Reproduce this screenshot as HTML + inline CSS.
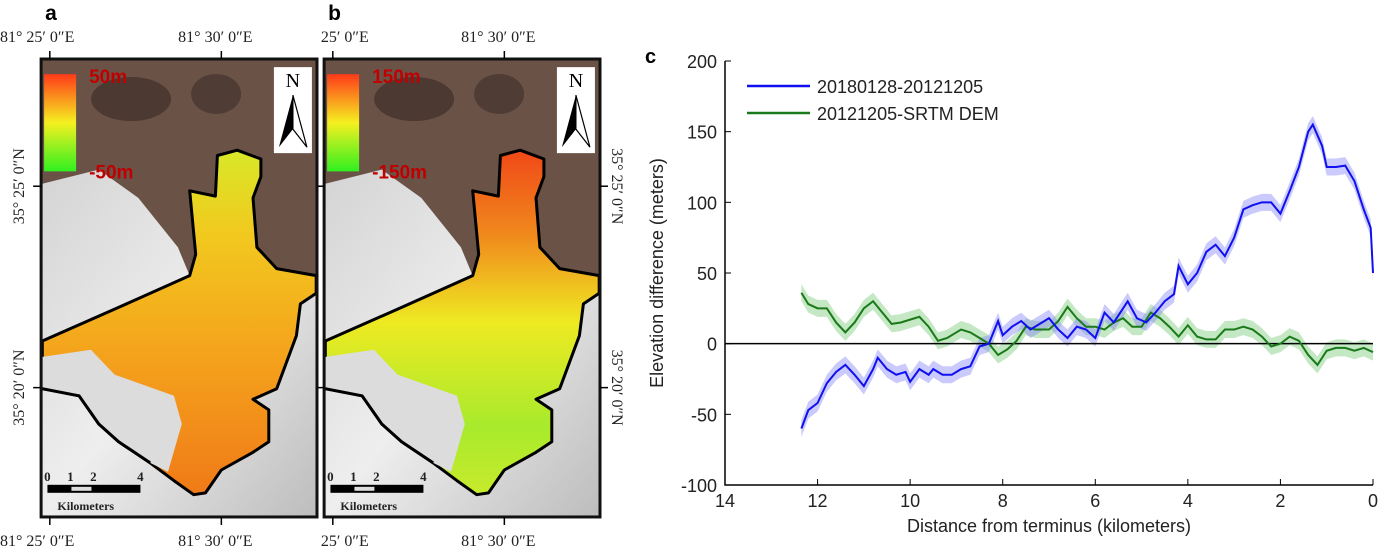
<!DOCTYPE html>
<html><head><meta charset="utf-8"><style>
html,body{margin:0;padding:0;background:#fff;width:1400px;height:554px;overflow:hidden}
svg{position:absolute;left:0;top:0}
</style></head><body>
<svg id="root" width="1400" height="554" xmlns="http://www.w3.org/2000/svg">
<defs>
<linearGradient id="cbar" x1="0" y1="0" x2="0" y2="1">
<stop offset="0" stop-color="#ff3a1a"/><stop offset="0.5" stop-color="#f5f020"/><stop offset="1" stop-color="#30f020"/></linearGradient>
<linearGradient id="glA" x1="0" y1="0" x2="0" y2="1">
<stop offset="0" stop-color="#d8e828"/><stop offset="0.25" stop-color="#f2c81e"/><stop offset="0.6" stop-color="#f4a21c"/><stop offset="1" stop-color="#f07a18"/></linearGradient>
<linearGradient id="glB" x1="0" y1="0" x2="0" y2="1">
<stop offset="0" stop-color="#f04818"/><stop offset="0.25" stop-color="#f08a1c"/><stop offset="0.5" stop-color="#eeea22"/><stop offset="0.8" stop-color="#a8ea2c"/><stop offset="1" stop-color="#c8ea2c"/></linearGradient>
<linearGradient id="snow" x1="0" y1="0" x2="1" y2="1">
<stop offset="0" stop-color="#d4d4d4"/><stop offset="0.5" stop-color="#eeeeee"/><stop offset="1" stop-color="#bdbdbd"/></linearGradient>
</defs>
<g id="maps"></g>
<g id="chart"></g>
</svg>
<script>
const NS='http://www.w3.org/2000/svg';
function mk(tag,attrs,parent,text){const e=document.createElementNS(NS,tag);for(const k in attrs)e.setAttribute(k,attrs[k]);if(text!==undefined)e.textContent=text;parent.appendChild(e);return e;}
// ---------- MAPS ----------
const maps=document.getElementById('maps');
const fx=z=>z/2.53, fy=z=>z/2.83;
const glacierZ=[[107,965],[300,870],[480,780],[495,720],[480,540],[545,555],[550,440],[600,425],[660,450],[660,500],[640,560],[650,700],[700,760],[800,780],[800,830],[760,860],[750,950],[700,1100],[640,1130],[680,1160],[680,1250],[640,1280],[560,1330],[520,1395],[490,1400],[440,1360],[380,1310],[300,1250],[250,1200],[200,1120],[107,1100]];
const holeZ=[[107,1010],[230,990],[290,1060],[440,1120],[460,1200],[425,1335],[380,1310],[300,1250],[250,1200],[200,1120],[107,1100]];
const snowZ=[[107,520],[250,480],[350,560],[450,700],[480,780],[800,790],[800,1460],[107,1460]];
function pts(arr,dx){return arr.map(p=>(fx(p[0])+dx).toFixed(1)+','+fy(p[1]).toFixed(1)).join(' ');}
function panel(dx,letter,grad,top,bot,name){
  const g=mk('g',{},maps);
  
  
  const x0=fx(104)+dx,y0=fy(167),w=fx(802)-fx(104),h=fy(1463)-fy(167);
  mk('rect',{x:x0,y:y0,width:w,height:h,fill:'#6a5247'},g);
  mk('ellipse',{cx:x0+90,cy:y0+40,rx:40,ry:22,fill:'#3e2f29',opacity:0.7},g);
  mk('ellipse',{cx:x0+175,cy:y0+35,rx:25,ry:20,fill:'#3e2f29',opacity:0.6},g);
  mk('polygon',{points:pts(snowZ,dx),fill:'url(#snow)'},g);
  mk('polygon',{points:pts(glacierZ,dx),fill:'url(#'+grad+')',stroke:'#000','stroke-width':3,'stroke-linejoin':'round'},g);
  mk('polygon',{points:pts(holeZ,dx),fill:'#dcdcdc'},g);
  mk('polyline',{points:pts([[107,1100],[200,1120],[250,1200],[300,1250],[380,1310]],dx),fill:'none',stroke:'#000','stroke-width':3},g);
  mk('rect',{x:x0,y:y0,width:w,height:h,fill:'none',stroke:'#111','stroke-width':3},g);
  mk('rect',{x:x0+3,y:fy(210),width:32,height:fy(485)-fy(210),fill:'url(#cbar)'},g);
  const lt=mk('text',{x:x0+48,y:fy(235),fill:'#c00000','font-size':19,'font-weight':'bold','font-family':'Liberation Sans, sans-serif'},g,top);
  
  const lb=mk('text',{x:x0+48,y:fy(505),fill:'#c00000','font-size':19,'font-weight':'bold','font-family':'Liberation Sans, sans-serif'},g,bot);
  
  const nx=fx(693)+dx,ny=fy(190);
  const na=mk('g',{},g);
  mk('rect',{x:nx,y:ny,width:38,height:86,fill:'#fff'},na);
  mk('text',{x:nx+19,y:ny+20,'text-anchor':'middle','font-size':20,'font-family':'Liberation Serif, serif'},na,'N');
  mk('polygon',{points:`${nx+19},${ny+28} ${nx+5},${ny+80} ${nx+19},${ny+62}`,fill:'#000'},na);
  mk('polygon',{points:`${nx+19},${ny+28} ${nx+33},${ny+80} ${nx+19},${ny+62}`,fill:'#fff',stroke:'#000','stroke-width':1.2},na);
  const sb=mk('g',{},g);
  const sx=fx(120)+dx,sy=fy(1372);
  mk('rect',{x:sx,y:sy,width:93,height:8,fill:'#000'},sb);
  mk('rect',{x:sx+24,y:sy+2,width:20,height:4,fill:'#ddd'},sb);
  [['0',0],['1',23],['2',46],['4',93]].forEach(d=>mk('text',{x:sx+d[1],y:sy-4,'text-anchor':'middle','font-size':13,'font-weight':'bold','font-family':'Liberation Serif, serif',fill:'#222'},sb,d[0]));
  mk('text',{x:sx+10,y:sy+25,'font-size':12,'font-weight':'bold','font-family':'Liberation Serif, serif',fill:'#222'},sb,'Kilometers');
  const L=mk('text',{x:x0+4,y:20,'font-size':21,'font-weight':'bold','font-family':'Liberation Sans, sans-serif'},g,letter);
  
  return {x0,y0,w,h,g};
}
const pa=panel(0,'a','glA','50m','-50m','map-panel-a');
const pb=panel(fx(820)-fx(104),'b','glB','150m','-150m','map-panel-b');
function coordLabels(p,left){
  const g=p.g,sty={'font-size':16,'font-family':'Liberation Serif, serif',fill:'#222'};
  const tx=[p.x0+fx(126)-fx(104),p.x0+fx(560)-fx(104)];
  const labs=[left?'81° 25′ 0″E':'25′ 0″E','81° 30′ 0″E'];
  tx.forEach((x,i)=>{
    mk('line',{x1:x,y1:p.y0-8,x2:x,y2:p.y0,stroke:'#000','stroke-width':1.5},g);
    mk('line',{x1:x,y1:p.y0+p.h,x2:x,y2:p.y0+p.h+8,stroke:'#000','stroke-width':1.5},g);
    const a=(i==0&&left)?'start':'middle',xx=(i==0&&left)?0:(i==0?x+12:x-6);
    mk('text',Object.assign({x:xx,y:42,'text-anchor':a},sty),g,labs[i]);
    mk('text',Object.assign({x:xx,y:546,'text-anchor':a},sty),g,labs[i]);
  });
  const ty=[fy(527),fy(1097)],lv=['35° 25′ 0″N','35° 20′ 0″N'];
  ty.forEach((y,i)=>{
    if(left){mk('line',{x1:p.x0-8,y1:y,x2:p.x0,y2:y,stroke:'#000','stroke-width':1.5},g);
      mk('text',Object.assign({transform:`translate(24,${y}) rotate(-90)`,'text-anchor':'middle'},sty),g,lv[i]);}
    else{mk('line',{x1:p.x0+p.w,y1:y,x2:p.x0+p.w+8,y2:y,stroke:'#000','stroke-width':1.5},g);
      mk('text',Object.assign({transform:`translate(612,${y}) rotate(90)`,'text-anchor':'middle'},sty),g,lv[i]);
      mk('line',{x1:p.x0-6,y1:y,x2:p.x0,y2:y,stroke:'#000','stroke-width':1.5},g);}
  });
}
coordLabels(pa,true);coordLabels(pb,false);

// ---------- CHART ----------
const blueKm=[12.35,12.2,12.0,11.8,11.6,11.4,11.2,11.0,10.8,10.7,10.5,10.3,10.1,10.0,9.8,9.6,9.5,9.3,9.1,8.9,8.7,8.5,8.3,8.1,8.0,7.8,7.6,7.4,7.2,7.0,6.8,6.6,6.4,6.2,6.0,5.8,5.6,5.5,5.3,5.1,4.9,4.7,4.5,4.3,4.2,4.0,3.8,3.6,3.4,3.2,3.0,2.8,2.6,2.4,2.2,2.0,1.8,1.6,1.4,1.3,1.1,1.0,0.8,0.6,0.4,0.2,0.05,0.0];
const blueVal=[-60,-47,-42,-28,-20,-15,-22,-30,-18,-10,-18,-22,-20,-27,-18,-22,-18,-22,-22,-18,-16,-2,0,16,6,12,16,10,14,18,10,4,12,10,4,22,15,20,30,18,15,22,30,35,55,42,50,65,70,62,75,95,98,100,100,92,108,125,150,155,140,125,125,126,115,95,82,50];
const greenKm=[12.35,12.2,12.0,11.8,11.6,11.4,11.2,11.0,10.8,10.6,10.4,10.2,10.0,9.8,9.6,9.4,9.2,8.9,8.7,8.5,8.3,8.1,7.9,7.7,7.5,7.3,7.0,6.8,6.6,6.4,6.2,6.0,5.8,5.6,5.4,5.2,5.0,4.8,4.6,4.4,4.2,4.0,3.8,3.6,3.4,3.2,3.0,2.8,2.6,2.4,2.2,2.0,1.8,1.6,1.4,1.2,1.0,0.8,0.6,0.4,0.2,0.0];
const greenVal=[36,28,25,25,15,8,15,25,30,22,14,15,17,19,12,2,4,10,8,4,0,-8,-4,2,12,10,10,16,26,18,12,12,10,15,18,12,12,22,18,12,5,13,5,3,3,10,10,12,10,5,-2,0,5,2,-8,-15,-5,-3,-3,-5,-3,-6];
const xTicks=[14,12,10,8,6,4,2,0];
const yTicks=[200,150,100,50,0,-50,-100];
const bandHalf=6;
const X0=725,X1=1373,Y0=61,Y1=485;
const xs=v=>X0+(14-v)/14*(X1-X0);
const ys=v=>Y0+(200-v)/300*(Y1-Y0);
const ch=document.getElementById('chart');
const fnt='Liberation Sans Narrow, Liberation Sans, sans-serif';
const c=mk('text',{x:645,y:63,'font-size':20,'font-weight':'bold','font-family':'Liberation Sans, sans-serif'},ch,'c');

function band(km,val,col,name){
  const up=km.map((k,i)=>xs(k)+','+ys(val[i]+bandHalf));
  const dn=km.map((k,i)=>xs(k)+','+ys(val[i]-bandHalf)).reverse();
  const p=mk('polygon',{points:up.concat(dn).join(' '),fill:col,opacity:0.45},ch);
  
}
function line(km,val,col,name){
  const p=mk('polyline',{points:km.map((k,i)=>xs(k)+','+ys(val[i])).join(' '),fill:'none',stroke:col,'stroke-width':2},ch);
  
}
band(greenKm,greenVal,'#7ccc7c','green-uncertainty-band');
band(blueKm,blueVal,'#8a8af8','blue-uncertainty-band');
const z=mk('line',{x1:X0,y1:ys(0),x2:X1,y2:ys(0),stroke:'#000','stroke-width':1.5},ch);

line(greenKm,greenVal,'#1a7a1a','series-20121205-srtm');
line(blueKm,blueVal,'#1010f0','series-20180128-20121205');
const ax=mk('path',{d:`M${X0},${Y0} V${Y1} H${X1}`,fill:'none',stroke:'#000','stroke-width':1.5},ch);

xTicks.forEach(t=>{
  mk('line',{x1:xs(t),y1:Y1,x2:xs(t),y2:Y1-6,stroke:'#000'},ch);
  const e=mk('text',{x:xs(t),y:Y1+22,'text-anchor':'middle','font-size':18,'font-family':fnt,fill:'#222'},ch,String(t));
  
});
yTicks.forEach(t=>{
  mk('line',{x1:X0,y1:ys(t),x2:X0+6,y2:ys(t),stroke:'#000'},ch);
  const e=mk('text',{x:X0-8,y:ys(t)+7,'text-anchor':'end','font-size':18,'font-family':fnt,fill:'#222'},ch,String(t));
  
});
const xt=mk('text',{x:(X0+X1)/2,y:532,'text-anchor':'middle','font-size':18,'font-family':fnt,fill:'#222'},ch,'Distance from terminus (kilometers)');

const yt=mk('text',{transform:`translate(663,${(Y0+Y1)/2}) rotate(-90)`,'text-anchor':'middle','font-size':18,'font-family':fnt,fill:'#222'},ch,'Elevation difference (meters)');

[['20180128-20121205','#1010f0',86],['20121205-SRTM DEM','#1a7a1a',113]].forEach(d=>{
  const g=mk('g',{},ch);
  
  
  const y=d[2];
  mk('line',{x1:747,y1:y,x2:810,y2:y,stroke:d[1],'stroke-width':2.5},g);
  mk('text',{x:817,y:y+7,'font-size':18,'font-family':fnt,fill:'#222'},g,d[0]);
});
</script>
</body></html>
